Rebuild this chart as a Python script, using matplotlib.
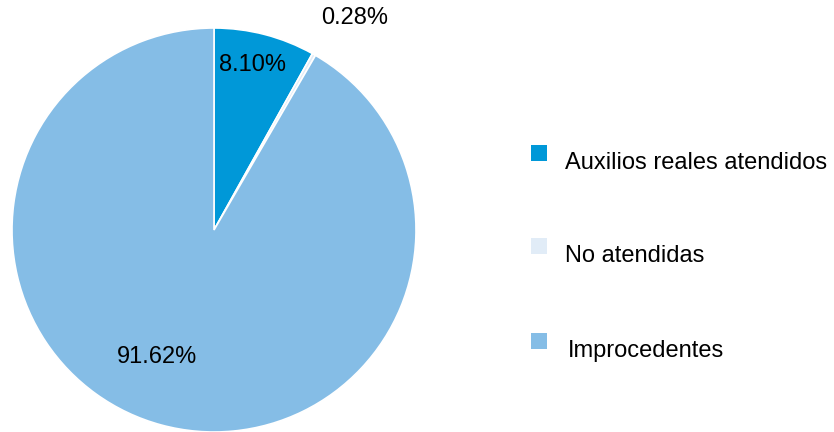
import matplotlib
matplotlib.use("Agg")
import matplotlib.pyplot as plt
from matplotlib.patches import Rectangle
import numpy as np

plt.rcParams['font.family'] = ['Liberation Sans', 'DejaVu Sans']

# datos
categorias = ["Auxilios reales atendidos", "No atendidas", "Improcedentes"]
porcentajes = [8.10, 0.28, 91.62]
colores = ["#0098d8", "#e1ecf7", "#85bde6"]

W, H = 834, 432
fig = plt.figure(figsize=(W / 100, H / 100), dpi=100)

# pie: centro (214, 230) px, radio 202 px
cx, cy, r = 214, 230, 202
ax = fig.add_axes([(cx - r) / W, (H - cy - r) / H, 2 * r / W, 2 * r / H])
ax.axis("off")

wedges, _ = ax.pie(porcentajes, colors=colores, startangle=90, counterclock=False,
                   radius=1, center=(0, 0), frame=False,
                   wedgeprops=dict(edgecolor="white", linewidth=1.2))
ax.set_xlim(-1, 1)
ax.set_ylim(-1, 1)

# posicion de etiquetas (radio, desfase de angulo) por porcion
etq_radio = [0.84, 1.26, 0.69]
etq_desfase = [1.5, -4.0, -9.0]
for w, p, rr, dd in zip(wedges, porcentajes, etq_radio, etq_desfase):
    ang = np.deg2rad((w.theta1 + w.theta2) / 2 + dd)
    ax.text(rr * np.cos(ang), rr * np.sin(ang), "%.2f%%" % p,
            ha="center", va="center", fontsize=17, color="black", clip_on=False)

# leyenda manual
filas_y = [153, 246, 341]
texto_x = [565, 565, 568]
for cat, col, fy, tx in zip(categorias, colores, filas_y, texto_x):
    fig.patches.append(Rectangle((531 / W, (H - fy - 8) / H), 16 / W, 16 / H,
                                 transform=fig.transFigure, facecolor=col,
                                 edgecolor="none"))
    fig.text(tx / W, (H - fy - 10) / H, cat, ha="left", va="center",
             fontsize=17, color="black")

fig.savefig("out.png", dpi=100)
